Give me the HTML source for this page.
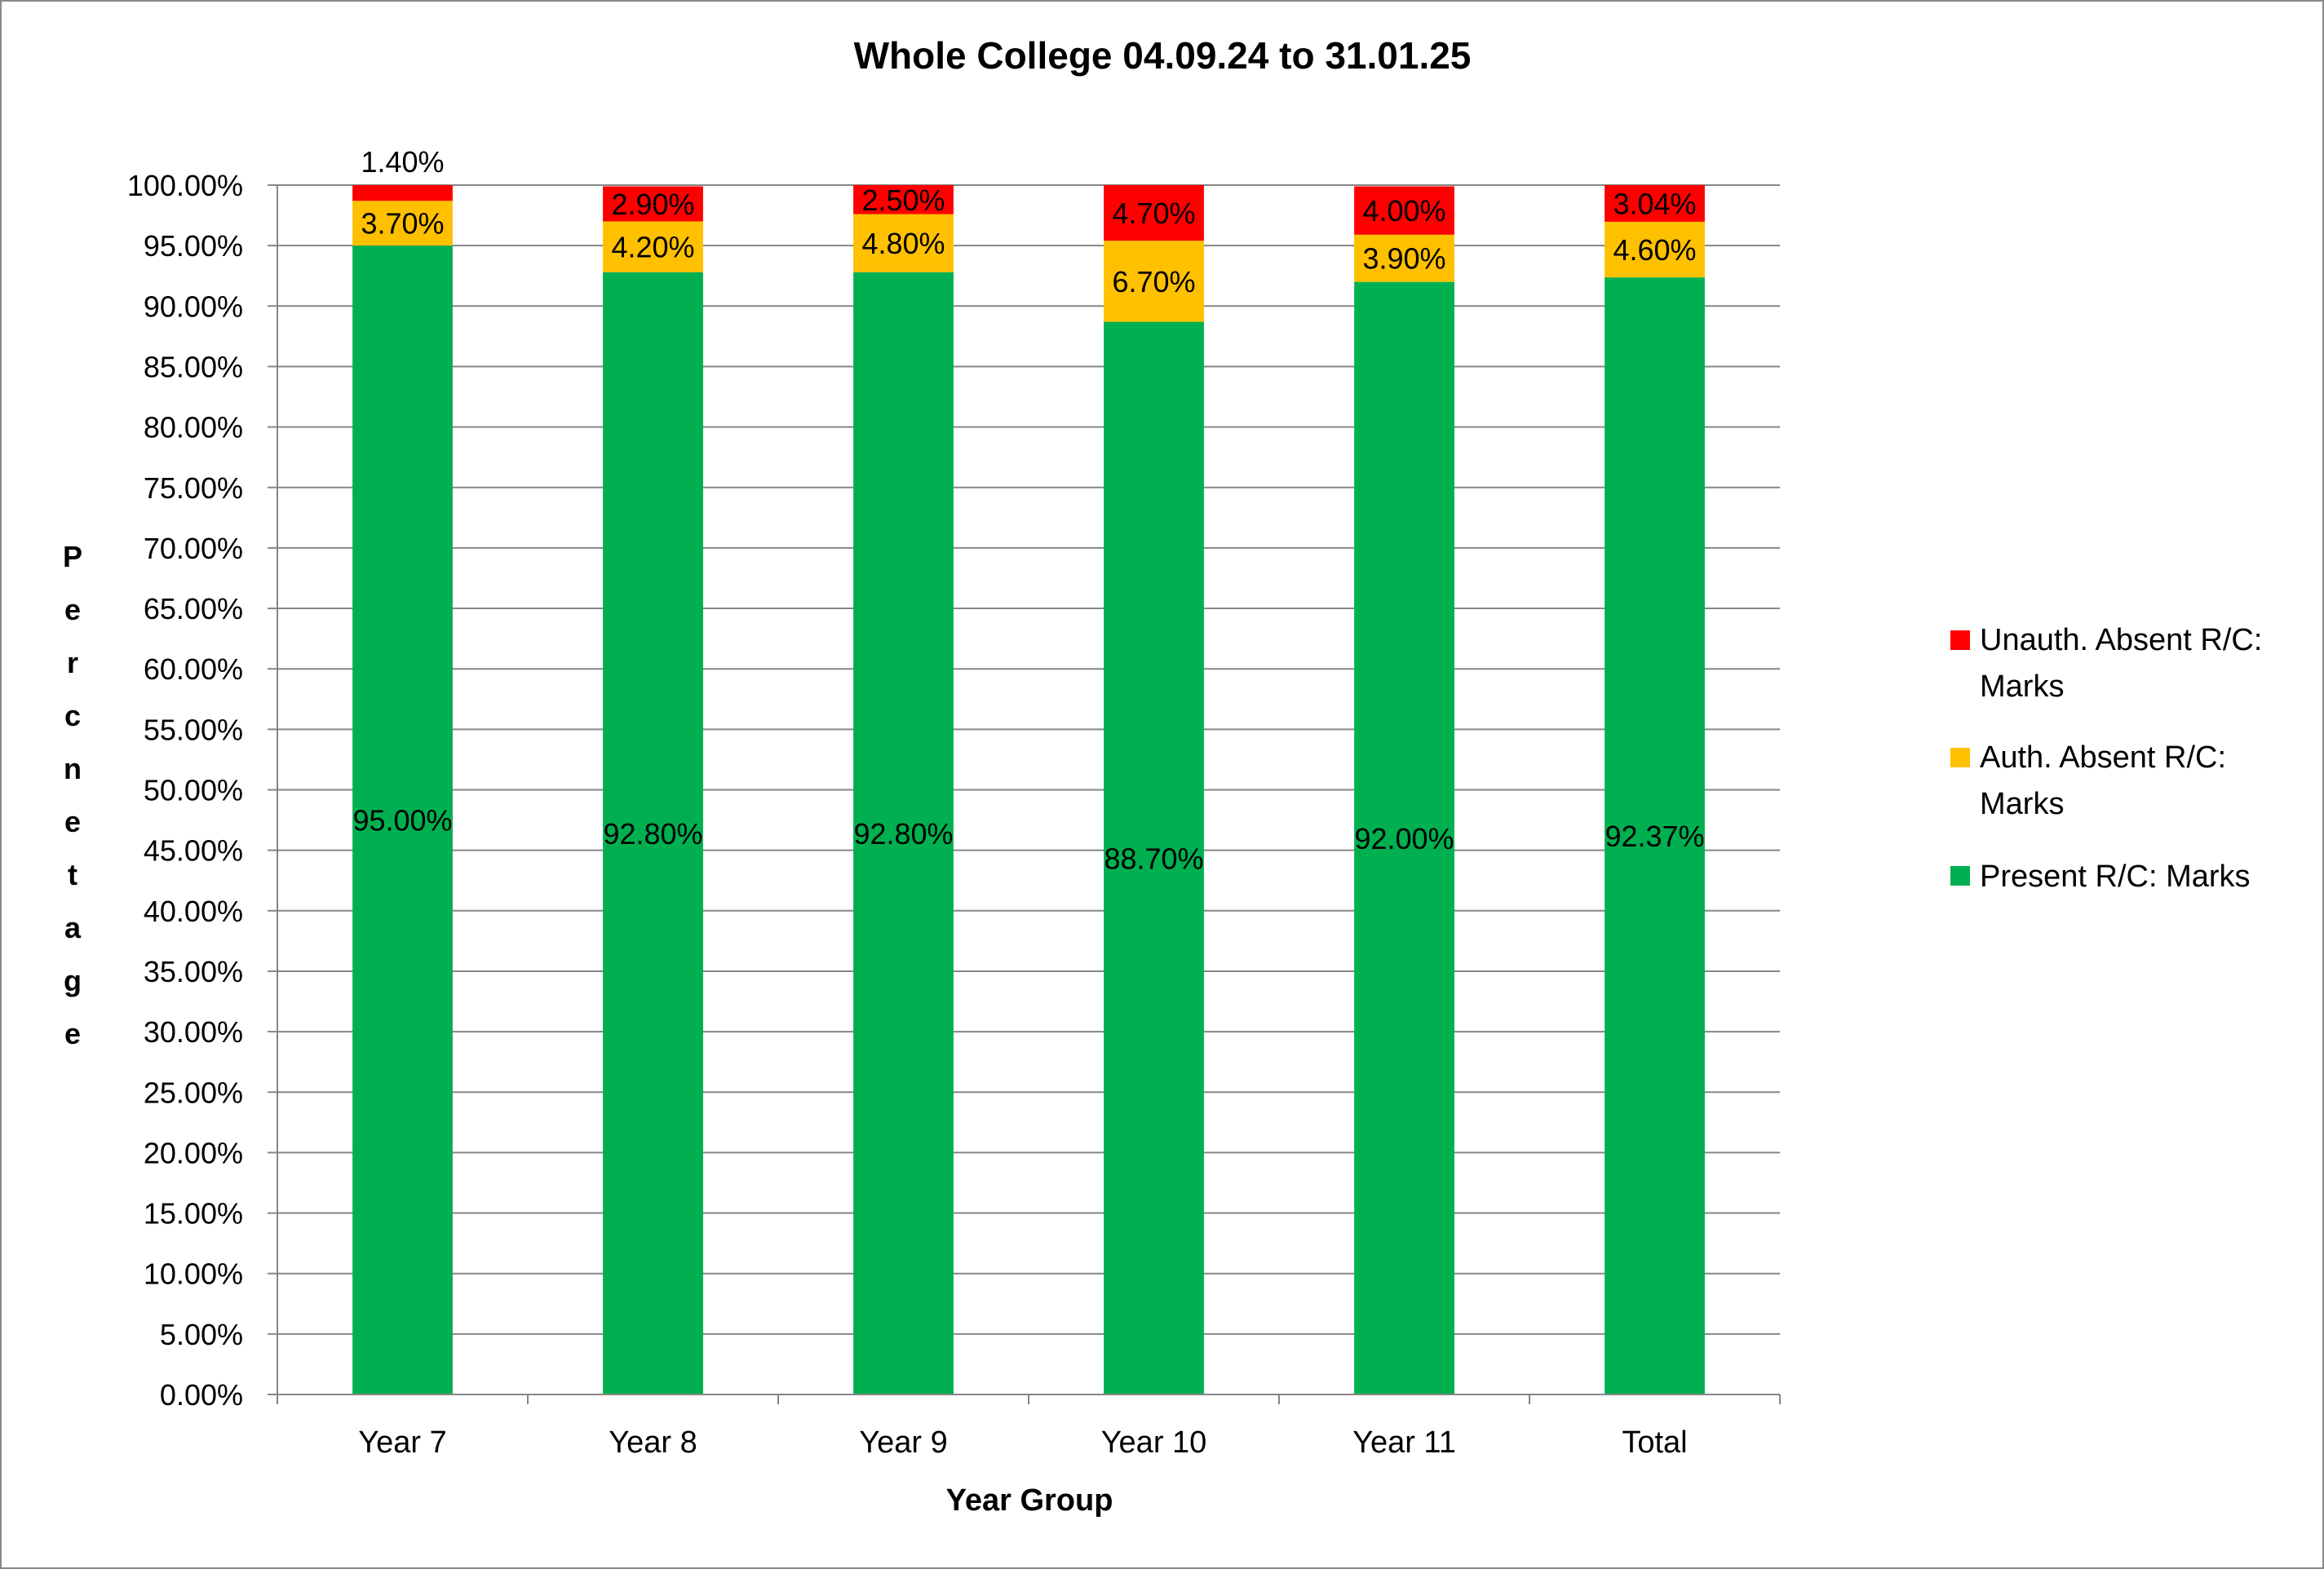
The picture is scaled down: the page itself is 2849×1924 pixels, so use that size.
<!DOCTYPE html>
<html><head><meta charset="utf-8"><style>
body{margin:0;background:#fff}
svg{display:block;font-family:"Liberation Sans",Calibri,sans-serif}
</style></head><body>
<svg id="chart" width="2849" height="1924" viewBox="0 0 2849 1924" xmlns="http://www.w3.org/2000/svg">
<rect x="1" y="1" width="2847" height="1922" fill="#fff" stroke="#888" stroke-width="2"/>
<text x="1425" y="84" text-anchor="middle" font-size="46" font-weight="bold">Whole College 04.09.24 to 31.01.25</text>
<g id="grid"></g>
<g id="bars"></g>
<g id="axes"></g>
<g id="ytitle"></g>
<text x="1262" y="1852" text-anchor="middle" font-size="38" font-weight="bold">Year Group</text>
<g>
<g><rect x="2391" y="773" width="24" height="24" fill="#ff0000"/><text x="2427" y="797" font-size="38">Unauth. Absent R/C:</text><text x="2427" y="854" font-size="38">Marks</text></g>
<g><rect x="2391" y="917" width="24" height="24" fill="#ffc000"/><text x="2427" y="941" font-size="38">Auth. Absent R/C:</text><text x="2427" y="998" font-size="38">Marks</text></g>
<g><rect x="2391" y="1062" width="24" height="24" fill="#00b050"/><text x="2427" y="1087" font-size="38">Present R/C: Marks</text></g>
</g>
</svg>
<script>
const categories=["Year 7","Year 8","Year 9","Year 10","Year 11","Total"];
const present=[95.00,92.80,92.80,88.70,92.00,92.37];
const auth=[3.70,4.20,4.80,6.70,3.90,4.60];
const unauth=[1.40,2.90,2.50,4.70,4.00,3.04];
const yTicks=[0,5,10,15,20,25,30,35,40,45,50,55,60,65,70,75,80,85,90,95,100];
const NS="http://www.w3.org/2000/svg";
const X0=340,X1=2182,Y0=1710,Y1=227;
const y=v=>Y0-(Math.min(v,100)/100)*(Y0-Y1);
const cw=(X1-X0)/categories.length;
const xc=i=>X0+cw*(i+0.5);
const bw=cw*0.4;
function mk(tag,attrs,parent,txt){const e=document.createElementNS(NS,tag);for(const k in attrs)e.setAttribute(k,attrs[k]);if(txt!==undefined)e.textContent=txt;parent.appendChild(e);return e;}
const grid=document.getElementById('grid'),bars=document.getElementById('bars'),axes=document.getElementById('axes');
yTicks.forEach(t=>{
  const l=mk('line',{x1:X0,x2:X1,y1:y(t),y2:y(t),stroke:'#868686','stroke-width':2},grid);
  
  
  const tk=mk('line',{x1:X0-12,x2:X0,y1:y(t),y2:y(t),stroke:'#868686','stroke-width':2},axes);
  
  
  const tx=mk('text',{x:X0-42,y:y(t)+13,'text-anchor':'end','font-size':36},axes,t.toFixed(2)+'%');
  
  
});
mk('line',{x1:X0,x2:X0,y1:Y1,y2:Y0,stroke:'#868686','stroke-width':2},axes);
mk('line',{x1:X0,x2:X1,y1:Y0,y2:Y0,stroke:'#868686','stroke-width':2},axes);
for(let i=0;i<=categories.length;i++){mk('line',{x1:X0+cw*i,x2:X0+cw*i,y1:Y0,y2:Y0+12,stroke:'#868686','stroke-width':2},axes);}
categories.forEach((c,i)=>{
  const t=mk('text',{x:xc(i),y:1781,'text-anchor':'middle','font-size':38},axes,c);
  
  
  const segs=[[0,present[i],'#00b050','present'],[present[i],present[i]+auth[i],'#ffc000','auth'],[present[i]+auth[i],present[i]+auth[i]+unauth[i],'#ff0000','unauth']];
  const vals=[present[i],auth[i],unauth[i]];
  segs.forEach((s,j)=>{
    const top=y(s[1]),bot=y(s[0]);
    const r=mk('rect',{x:xc(i)-bw/2,y:top,width:bw,height:Math.max(0,bot-top),fill:s[2]},bars);
    
    
    let ly=(top+bot)/2+13;
    if(j===2&&bot-top<30)ly=top-16;
    const lt=mk('text',{x:xc(i),y:ly,'text-anchor':'middle','font-size':36},bars,vals[j].toFixed(2)+'%');
    
    
  });
});
const yt=document.getElementById('ytitle');
"Percnetage".split('').forEach((ch,k)=>{mk('text',{x:89,y:695+k*65,'text-anchor':'middle','font-size':36,'font-weight':'bold'},yt,ch);});
</script>
</body></html>
